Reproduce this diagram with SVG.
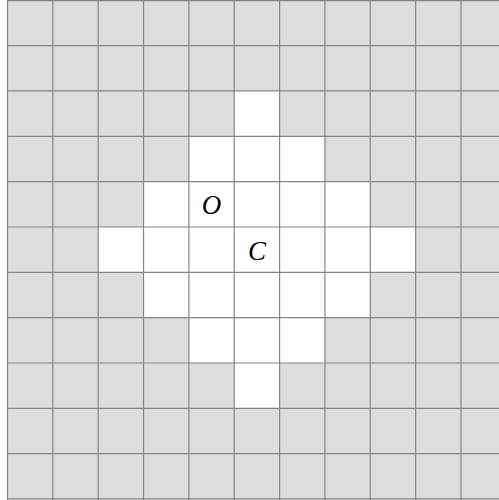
<svg xmlns="http://www.w3.org/2000/svg" width="499" height="500" viewBox="0 0 499 500">
<style>
.w{fill:#ffffff}
.g{stroke:#858585;stroke-width:1.2;fill:none}
.t{font-family:"Liberation Serif","DejaVu Serif",serif;font-style:italic;font-size:27px;fill:#000}
</style>
<rect x="0" y="0" width="499" height="500" fill="#ffffff"/>
<rect x="7.5" y="0" width="492" height="500" fill="#dddddd"/>
<g id="white-cells">
<rect class="w" x="234.25" y="91" width="45.35" height="45.35"/>
<rect class="w" x="188.9" y="136.3" width="136.05" height="45.35"/>
<rect class="w" x="143.55" y="181.65" width="226.75" height="45.35"/>
<rect class="w" x="98.2" y="227" width="317.45" height="45.35"/>
<rect class="w" x="143.55" y="272.3" width="226.75" height="45.35"/>
<rect class="w" x="188.9" y="317.65" width="136.05" height="45.35"/>
<rect class="w" x="234.25" y="363" width="45.35" height="45.35"/>
</g>
<g id="grid" class="g">
<path d="M7.5 0V500M52.85 0V500M98.2 0V500M143.55 0V500M188.9 0V500M234.25 0V500M279.6 0V500M324.95 0V500M370.3 0V500M415.65 0V500M461 0V500"/>
<path d="M7.5 0.6H499M7.5 45.6H499M7.5 90.9H499M7.5 136.3H499M7.5 181.6H499M7.5 227H499M7.5 272.3H499M7.5 317.6H499M7.5 363H499M7.5 408.3H499M7.5 453.6H499M7.5 498.8H499"/>
</g>
<g id="labels">
<text class="t" x="211.5" y="213.5" text-anchor="middle">O</text>
<text class="t" x="257" y="259.5" text-anchor="middle">C</text>
</g>
</svg>
